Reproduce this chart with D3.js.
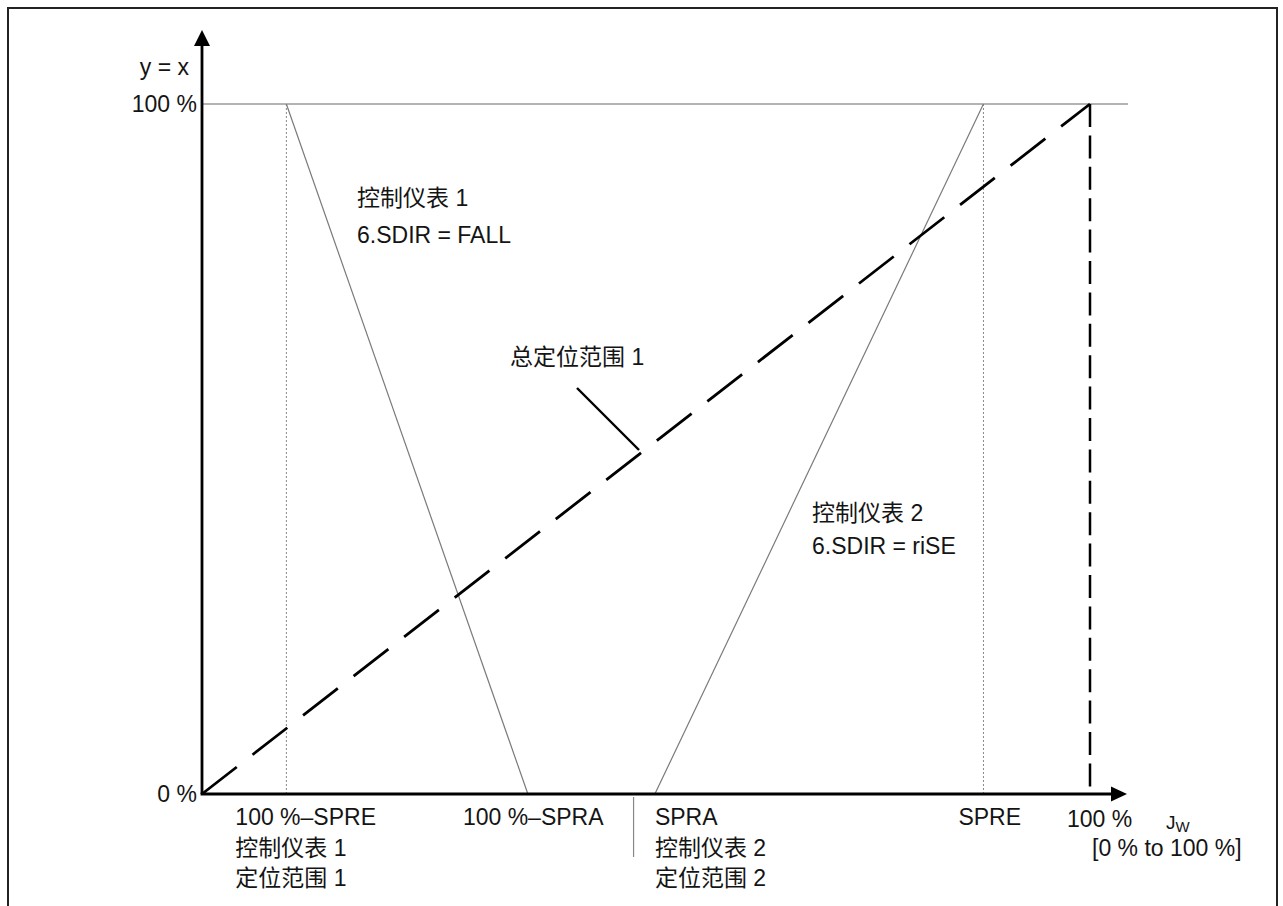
<!DOCTYPE html>
<html>
<head>
<meta charset="utf-8">
<script src="https://cdn.jsdelivr.net/npm/d3@7"></script>
<style>
  html, body { margin: 0; padding: 0; background: #fff; }
  svg { display: block; }
  text { font-family: "Liberation Sans", "Noto Sans CJK SC", sans-serif; fill: #141414; }
</style>
</head>
<body>
<svg id="chart" width="1283" height="906"></svg>
<script>
// ---- data (percent of range) ----
const xTickValues = [9.5, 36.7, 51.0, 88.0, 100];
const xTickLabels = ["100 %–SPRE", "100 %–SPRA", "SPRA", "SPRE", "100 %"];
const yTickValues = [0, 100];
const yTickLabels = ["0 %", "100 %"];
const fallLine = [[9.5, 100], [36.7, 0]];      // 控制仪表 1, FALL
const riseLine = [[51.0, 0], [88.0, 100]];     // 控制仪表 2, riSE
const totalLine = [[0, 0], [100, 100]];        // 总定位范围 1
const separatorX = 48.6;
const subLabels1 = ["控制仪表 1", "定位范围 1"];
const subLabels2 = ["控制仪表 2", "定位范围 2"];
const noteFall = ["控制仪表 1", "6.SDIR = FALL"];
const noteRise = ["控制仪表 2", "6.SDIR = riSE"];
const noteTotal = "总定位范围 1";
const yAxisTitle = "y = x";
const xAxisTitle = "J";
const xAxisTitleSub = "W";
const xAxisRange = "[0 % to 100 %]";

// ---- layout ----
const svg = d3.select("#chart");
const x = d3.scaleLinear().domain([0, 100]).range([202, 1090]);
const y = d3.scaleLinear().domain([0, 100]).range([794, 104]);
const FS = 23;

// frame
svg.append("rect").attr("x", 8).attr("y", 8).attr("width", 1269).attr("height", 910)
  .attr("fill", "none").attr("stroke", "#222").attr("stroke-width", 2);

const line = d3.line().x(d => x(d[0])).y(d => y(d[1]));

// 100% horizontal reference
svg.append("line").attr("x1", x(0)).attr("x2", 1128).attr("y1", y(100)).attr("y2", y(100))
  .attr("stroke", "#9a9a9a").attr("stroke-width", 1.5);

// dotted verticals at 100%-SPRE and SPRE
[xTickValues[0], xTickValues[3]].forEach(v => {
  svg.append("line").attr("x1", x(v)).attr("x2", x(v)).attr("y1", y(100)).attr("y2", y(0))
    .attr("stroke", "#888").attr("stroke-width", 1).attr("stroke-dasharray", "2,2");
});

// fall / rise lines
svg.append("path").datum(fallLine).attr("d", line).attr("fill", "none")
  .attr("stroke", "#7a7a7a").attr("stroke-width", 1.2);
svg.append("path").datum(riseLine).attr("d", line).attr("fill", "none")
  .attr("stroke", "#7a7a7a").attr("stroke-width", 1.2);

// total dashed diagonal
svg.append("path").datum(totalLine).attr("d", line).attr("fill", "none")
  .attr("stroke", "#000").attr("stroke-width", 2.8).attr("stroke-dasharray", "44,20");

// dashed vertical at 100%
svg.append("line").attr("x1", x(100)).attr("x2", x(100)).attr("y1", y(100)).attr("y2", y(0))
  .attr("stroke", "#000").attr("stroke-width", 2.5).attr("stroke-dasharray", "23,8.4");

// leader line for total
svg.append("line").attr("x1", 577).attr("y1", 388).attr("x2", 639).attr("y2", 450)
  .attr("stroke", "#000").attr("stroke-width", 2.4);

// separator tick
svg.append("line").attr("x1", x(separatorX)).attr("x2", x(separatorX)).attr("y1", y(0) + 3).attr("y2", 857)
  .attr("stroke", "#888").attr("stroke-width", 1.2);

// axes lines with arrows
svg.append("line").attr("x1", x(0)).attr("y1", y(0)).attr("x2", x(0)).attr("y2", 44)
  .attr("stroke", "#000").attr("stroke-width", 2.8);
svg.append("path").attr("d", `M${x(0)},30 L${x(0) - 8},46 L${x(0) + 8},46 Z`).attr("fill", "#000");
svg.append("line").attr("x1", x(0) - 1.4).attr("y1", y(0)).attr("x2", 1114).attr("y2", y(0))
  .attr("stroke", "#000").attr("stroke-width", 2.8);
svg.append("path").attr("d", `M1127,${y(0)} L1111,${y(0) - 7.5} L1111,${y(0) + 7.5} Z`).attr("fill", "#000");

// y axis labels via d3 axis
const yAxis = d3.axisLeft(y).tickValues(yTickValues).tickSize(0).tickPadding(5)
  .tickFormat((d, i) => yTickLabels[i]);
const gy = svg.append("g").attr("transform", `translate(${x(0)},0)`).call(yAxis);
gy.select(".domain").remove();
gy.selectAll("text").style("font-size", FS + "px").attr("fill", "#141414")
  .style("font-family", "'Liberation Sans', sans-serif");

svg.append("text").attr("x", 189).attr("y", 75).attr("text-anchor", "end")
  .style("font-size", FS + "px").text(yAxisTitle);

// x tick labels
const xLabelDx = [-51, -65, 0, -25, -23];
const xLabelY = [825, 825, 825, 825, 827];
xTickValues.forEach((v, i) => {
  svg.append("text").attr("x", x(v) + xLabelDx[i]).attr("y", xLabelY[i])
    .style("font-size", FS + "px").text(xTickLabels[i]);
});
subLabels1.forEach((t, i) => {
  svg.append("text").attr("x", x(xTickValues[0]) + xLabelDx[0]).attr("y", 856 + i * 30)
    .style("font-size", FS + "px").text(t);
});
subLabels2.forEach((t, i) => {
  svg.append("text").attr("x", x(xTickValues[2]) + xLabelDx[2]).attr("y", 856 + i * 30)
    .style("font-size", FS + "px").text(t);
});

// x axis title
const tJ = svg.append("text").attr("x", 1166).attr("y", 829).style("font-size", "19px");
tJ.append("tspan").text(xAxisTitle);
tJ.append("tspan").attr("dy", 3).style("font-size", "15px").text(xAxisTitleSub);
svg.append("text").attr("x", 1092).attr("y", 856).style("font-size", FS + "px").text(xAxisRange);

// notes
noteFall.forEach((t, i) => {
  svg.append("text").attr("x", 357).attr("y", 206 + i * 37).style("font-size", FS + "px").text(t);
});
svg.append("text").attr("x", 510).attr("y", 365).style("font-size", FS + "px").text(noteTotal);
noteRise.forEach((t, i) => {
  svg.append("text").attr("x", 812).attr("y", 521 + i * 33).style("font-size", FS + "px").text(t);
});
</script>
</body>
</html>
